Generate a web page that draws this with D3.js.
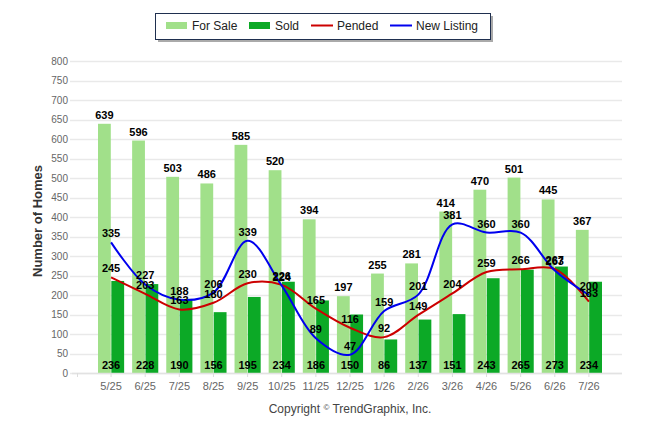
<!DOCTYPE html>
<html>
<head>
<meta charset="utf-8">
<script src="https://cdn.jsdelivr.net/npm/d3@7"></script>
<style>
  body { margin: 0; background: #fff; }
  svg { font-family: 'Liberation Sans', Arial, sans-serif; display: block; }
</style>
</head>
<body>
<div class="canvas"></div>
<script>
const months = ['5/25', '6/25', '7/25', '8/25', '9/25', '10/25', '11/25', '12/25',
  '1/26', '2/26', '3/26', '4/26', '5/26', '6/26', '7/26']
const forSale = [639, 596, 503, 486, 585, 520, 394, 197, 255, 281, 414, 470, 501, 445, 367]
const sold = [236, 228, 190, 156, 195, 234, 186, 150, 86, 137, 151, 243, 265, 273, 234]
const pended = [245, 203, 163, 180, 230, 226, 165, 116, 92, 149, 204, 259, 266, 267, 183]
const newListing = [335, 227, 188, 206, 339, 224, 89, 47, 159, 201, 381, 360, 360, 263, 200]
const yTicks = [0, 50, 100, 150, 200, 250, 300, 350, 400, 450, 500, 550, 600, 650, 700, 750, 800]

const colors = {
  forSale: '#a1e08a',
  sold: '#0ca926',
  pended: '#cc0000',
  newListing: '#0000ee'
}

const width = 646
const height = 434
const plot = { left: 72, right: 622, top: 61, bottom: 373 }

const svg = d3.select('.canvas')
  .append('svg')
  .attr('width', width)
  .attr('height', height)

const x = d3.scaleBand()
  .domain(months)
  .range([94, 606])

const barX = d3.scaleBand()
  .domain(['forSale', 'sold'])
  .range([4, x.bandwidth() - 4])
  .paddingInner(0.04)

const y = d3.scaleLinear()
  .domain([0, 800])
  .range([plot.bottom, plot.top])

const center = m => x(m) + x.bandwidth() / 2

// grid
svg.append('g')
  .selectAll('line')
  .data(yTicks)
  .join('line')
  .attr('x1', plot.left - 2)
  .attr('x2', plot.right)
  .attr('y1', d => Math.round(y(d)) + 0.5)
  .attr('y2', d => Math.round(y(d)) + 0.5)
  .attr('stroke', '#e9e9e9')
  .attr('stroke-width', 1.5)

// y axis labels
const yAxis = svg.append('g')
  .attr('transform', 'translate(68, 0)')
  .call(d3.axisLeft(y).tickValues(yTicks).tickSize(0).tickPadding(0))
yAxis.select('.domain').remove()
yAxis.selectAll('text')
  .attr('fill', '#666')
  .style('font-size', '10px')
  .style('font-family', "'Liberation Sans', Arial, sans-serif")

svg.append('text')
  .attr('transform', `translate(42, ${(plot.top + plot.bottom) / 2 + 4}) rotate(-90)`)
  .attr('text-anchor', 'middle')
  .attr('fill', '#333')
  .style('font-size', '13px')
  .style('font-weight', 'bold')
  .text('Number of Homes')

// bars
const bars = svg.append('g')
bars.selectAll('.for-sale')
  .data(months)
  .join('rect')
  .attr('class', 'for-sale')
  .attr('x', m => x(m) + barX('forSale'))
  .attr('width', barX.bandwidth())
  .attr('y', (m, i) => y(forSale[i]))
  .attr('height', (m, i) => y(0) - y(forSale[i]))
  .attr('fill', colors.forSale)

bars.selectAll('.sold')
  .data(months)
  .join('rect')
  .attr('class', 'sold')
  .attr('x', m => x(m) + barX('sold'))
  .attr('width', barX.bandwidth())
  .attr('y', (m, i) => y(sold[i]))
  .attr('height', (m, i) => y(0) - y(sold[i]))
  .attr('fill', colors.sold)

// x axis
svg.append('line')
  .attr('x1', plot.left)
  .attr('x2', plot.right)
  .attr('y1', plot.bottom + 0.5)
  .attr('y2', plot.bottom + 0.5)
  .attr('stroke', '#e2e2e2')
  .attr('stroke-width', 1.5)

const xAxis = svg.append('g')
  .attr('transform', `translate(0, ${plot.bottom})`)
  .call(d3.axisBottom(x).tickSize(4).tickPadding(5))
xAxis.select('.domain').remove()
xAxis.selectAll('line').attr('stroke', '#ddd')
xAxis.selectAll('text')
  .attr('fill', '#666')
  .style('font-size', '11px')
  .style('font-family', "'Liberation Sans', Arial, sans-serif")

svg.append('line')
  .attr('x1', 77.5).attr('x2', 77.5)
  .attr('y1', plot.bottom).attr('y2', plot.bottom + 4)
  .attr('stroke', '#ddd')

// lines
const line = d3.line()
  .x((d, i) => center(months[i]))
  .y(d => y(d))
  .curve(d3.curveCatmullRom.alpha(0.5))

svg.append('path')
  .datum(pended)
  .attr('fill', 'none')
  .attr('stroke', colors.pended)
  .attr('stroke-width', 2)
  .attr('d', line)

svg.append('path')
  .datum(newListing)
  .attr('fill', 'none')
  .attr('stroke', colors.newListing)
  .attr('stroke-width', 2)
  .attr('d', line)

// value labels
function addLabels(values, yPos, xPos) {
  svg.append('g')
    .selectAll('text')
    .data(values)
    .join('text')
    .attr('x', (d, i) => xPos(i))
    .attr('y', (d, i) => yPos(d, i))
    .attr('text-anchor', 'middle')
    .attr('fill', '#000')
    .style('font-size', '11px')
    .style('font-weight', 'bold')
    .text(d => d)
}

addLabels(forSale, d => y(d) - 5, i => x(months[i]) + barX('forSale') + barX.bandwidth() / 2)
addLabels(sold, () => plot.bottom - 4, i => center(months[i]))
addLabels(pended, d => y(d) - 5, i => center(months[i]))
addLabels(newListing, d => y(d) - 5, i => center(months[i]))

// legend
const legend = svg.append('g')
legend.append('rect')
  .attr('x', 158).attr('y', 16)
  .attr('width', 335).attr('height', 26)
  .attr('fill', '#aaa')
legend.append('rect')
  .attr('x', 155.5).attr('y', 13.5)
  .attr('width', 335).attr('height', 26)
  .attr('fill', '#fff')
  .attr('stroke', '#1f2f4f')

const legendItems = [
  { name: 'For Sale', key: 'forSale', type: 'rect', x: 166 },
  { name: 'Sold', key: 'sold', type: 'rect', x: 249 },
  { name: 'Pended', key: 'pended', type: 'line', x: 311 },
  { name: 'New Listing', key: 'newListing', type: 'line', x: 390 }
]

legendItems.forEach(item => {
  if (item.type === 'rect') {
    legend.append('rect')
      .attr('x', item.x).attr('y', 22)
      .attr('width', 21).attr('height', 7)
      .attr('fill', colors[item.key])
  } else {
    legend.append('line')
      .attr('x1', item.x).attr('x2', item.x + 22)
      .attr('y1', 25.5).attr('y2', 25.5)
      .attr('stroke', colors[item.key])
      .attr('stroke-width', 2)
  }
  legend.append('text')
    .attr('x', item.x + 26)
    .attr('y', 30)
    .attr('fill', '#222')
    .style('font-size', '12px')
    .text(item.name)
})

// copyright
const copy = svg.append('text')
  .attr('x', 350)
  .attr('y', 413)
  .attr('text-anchor', 'middle')
  .attr('fill', '#444')
  .style('font-size', '12px')
copy.append('tspan').text('Copyright ')
copy.append('tspan').attr('dy', -3).style('font-size', '8px').text('©')
copy.append('tspan').attr('dy', 3).text(' TrendGraphix, Inc.')
</script>
</body>
</html>
